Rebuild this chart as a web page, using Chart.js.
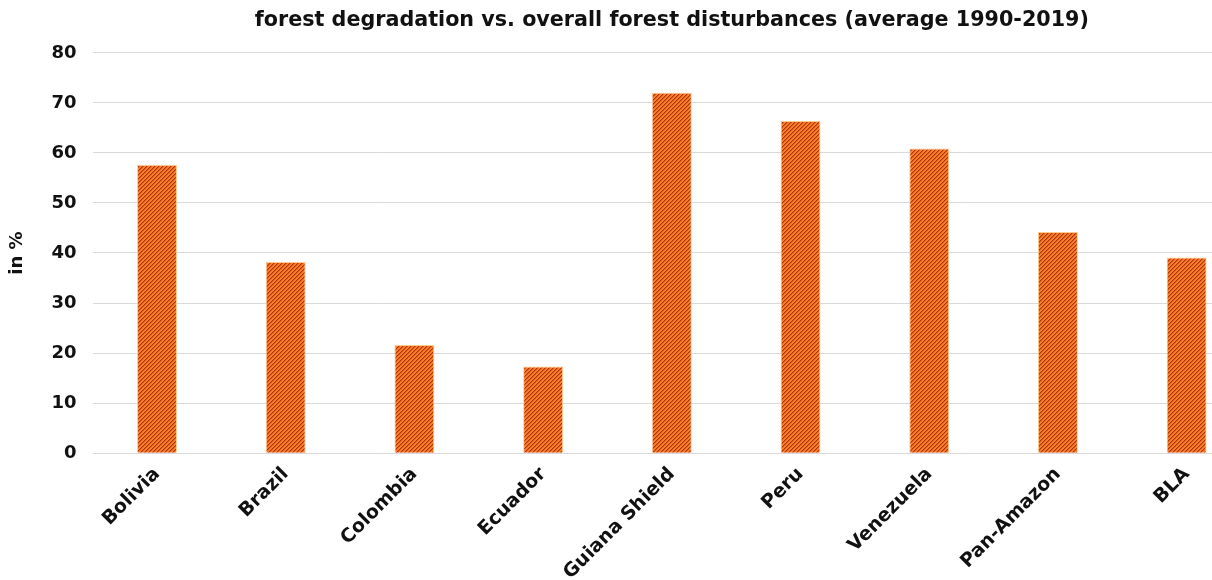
<!DOCTYPE html>
<html>
<head>
<meta charset="utf-8">
<script src="https://cdn.jsdelivr.net/npm/chart.js@4"></script>
<style>
  html, body { margin: 0; padding: 0; background: #ffffff; overflow: hidden; }
  #wrap { width: 1212px; height: 580px; overflow: hidden; position: relative; }
  canvas { display: block; }
</style>
</head>
<body>
<div id="wrap"><canvas id="c" width="1260" height="586"></canvas></div>
<script>
const categories = ['Bolivia', 'Brazil', 'Colombia', 'Ecuador', 'Guiana Shield', 'Peru', 'Venezuela', 'Pan-Amazon', 'BLA'];
const values = [57.6, 38.2, 21.6, 17.3, 72.0, 66.4, 60.9, 44.2, 39.1];
const yTickValues = [0, 10, 20, 30, 40, 50, 60, 70, 80];
const chartTitle = 'forest degradation vs. overall forest disturbances (average 1990-2019)';
const yAxisTitle = 'in %';

function makeHatch() {
  const t = document.createElement('canvas');
  t.width = 4; t.height = 4;
  const g = t.getContext('2d');
  const img = g.createImageData(4, 4);
  for (let y = 0; y < 4; y++) {
    for (let x = 0; x < 4; x++) {
      const i = (y * 4 + x) * 4;
      const k = (x + y) % 4;
      let col;
      if (k === 0) col = [170, 52, 12];
      else if (k === 1) col = [222, 92, 26];
      else col = [250, 126, 38];
      img.data[i] = col[0]; img.data[i + 1] = col[1]; img.data[i + 2] = col[2]; img.data[i + 3] = 255;
    }
  }
  g.putImageData(img, 0, 0);
  return g.createPattern(t, 'repeat');
}

const ctx = document.getElementById('c').getContext('2d');
const font = 'DejaVu Sans, Verdana, sans-serif';

new Chart(ctx, {
  type: 'bar',
  data: {
    labels: categories,
    datasets: [{
      data: values,
      backgroundColor: makeHatch(),
      borderColor: '#ffc98f',
      borderWidth: 1,
      categoryPercentage: 1.0,
      barPercentage: 0.31
    }]
  },
  options: {
    responsive: false,
    animation: false,
    devicePixelRatio: 1,
    layout: { padding: { left: 4, right: 9, top: 0, bottom: 0 } },
    plugins: {
      legend: { display: false },
      tooltip: { enabled: false },
      title: {
        display: true,
        text: chartTitle,
        fullSize: false,
        color: '#111111',
        font: { family: font, weight: 'bold', size: 20.7 },
        padding: { top: 8, bottom: 20 }
      }
    },
    scales: {
      x: {
        grid: { display: false },
        border: { display: false },
        ticks: {
          autoSkip: false,
          maxRotation: 45,
          minRotation: 45,
          color: '#111111',
          padding: 2,
          font: { family: font, weight: 'bold', size: 19 }
        }
      },
      y: {
        min: 0,
        max: 80,
        afterBuildTicks: (axis) => { axis.ticks = yTickValues.map(v => ({ value: v })); },
        grid: { color: '#d9d9d9', lineWidth: 1, drawTicks: false },
        border: { display: false },
        ticks: {
          color: '#111111',
          padding: 16,
          font: { family: font, weight: 'bold', size: 18 }
        },
        title: {
          display: true,
          text: yAxisTitle,
          color: '#111111',
          font: { family: font, weight: 'bold', size: 18 },
          padding: { top: 3, bottom: 7 }
        }
      }
    }
  }
});
</script>
</body>
</html>
